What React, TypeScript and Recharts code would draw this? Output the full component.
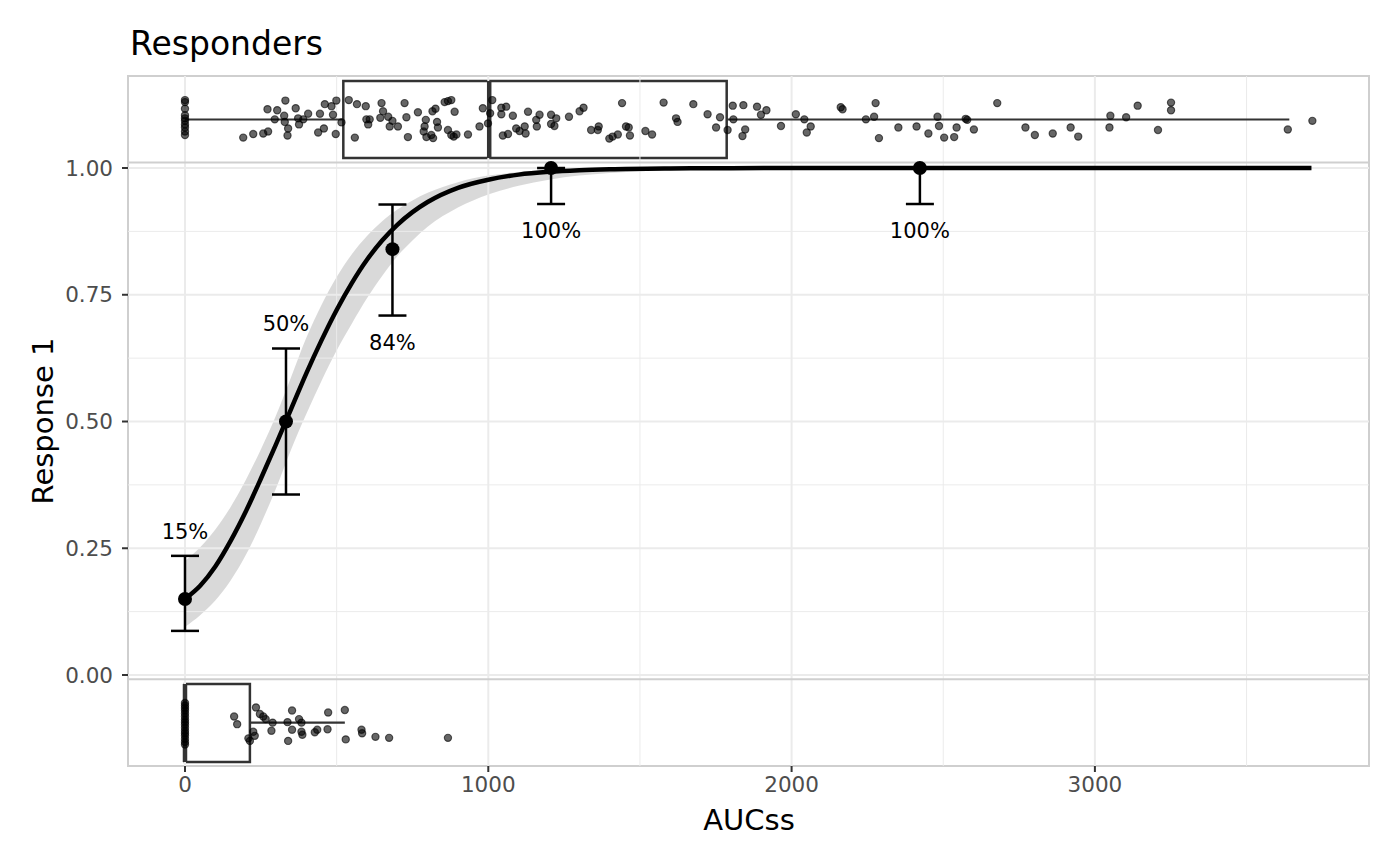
import React from "react";
import {
  ComposedChart,
  XAxis,
  YAxis,
  Line,
  Area,
  Scatter,
  ErrorBar,
  ReferenceLine,
  ReferenceArea,
} from "recharts";

const FONT = "'DejaVu Sans', 'Noto Sans', sans-serif";

// fitted logistic curve + confidence band
const curveX = [0, 50, 100, 150, 200, 250, 300, 350, 400, 450, 500, 550, 600, 650, 700, 750, 800, 900, 1000, 1100, 1200, 1300, 1400, 1600, 1800, 2000, 3714];
const curveP = [0.15, 0.176, 0.214, 0.264, 0.322, 0.387, 0.455, 0.525, 0.595, 0.66, 0.72, 0.773, 0.819, 0.857, 0.888, 0.913, 0.933, 0.961, 0.977, 0.987, 0.9925, 0.9957, 0.9976, 0.9992, 0.9997, 1.0, 1.0];
const bandLo = [0.095, 0.118, 0.147, 0.186, 0.236, 0.298, 0.368, 0.445, 0.515, 0.58, 0.64, 0.693, 0.743, 0.787, 0.826, 0.857, 0.884, 0.922, 0.948, 0.965, 0.977, 0.985, 0.99, 0.996, 0.998, 0.999, 1.0];
const bandHi = [0.225, 0.252, 0.287, 0.331, 0.384, 0.445, 0.512, 0.588, 0.665, 0.73, 0.785, 0.83, 0.866, 0.895, 0.918, 0.936, 0.951, 0.972, 0.985, 0.992, 0.996, 0.998, 0.999, 1.0, 1.0, 1.0, 1.0];

// observed proportion of responders per exposure bin
const binX = [0, 333, 684, 1207, 2423];
const binP = [0.15, 0.5, 0.84, 1.0, 1.0];
const binLo = [0.087, 0.356, 0.709, 0.929, 0.929];
const binHi = [0.235, 0.644, 0.928, 1.0, 1.0];
const binLabels = ["15%", "50%", "84%", "100%", "100%"];
const binLabelY = [0.284, 0.694, 0.657, 0.876, 0.876];

// boxplot stats: lower whisker, q1, median, q3, upper whisker
const respBox = [0, 522, 1003, 1786, 3641];
const nonRespBox = [0, 0, 0, 214, 527];

// jittered individual observations (AUCss, jittered y)
const respPoints = [
  [0, 1.134], [0, 1.13], [0, 1.117], [0, 1.104], [0, 1.098], [0, 1.093], [0, 1.086], [0, 1.08], [0, 1.072], [0, 1.065],
  [192, 1.06], [225, 1.067], [258, 1.068], [274, 1.072], [272, 1.116], [304, 1.114], [331, 1.133], [327, 1.103], [296, 1.096], [329, 1.091],
  [340, 1.078], [338, 1.064], [365, 1.118], [373, 1.098], [376, 1.086], [390, 1.096], [406, 1.107], [439, 1.07], [445, 1.107], [458, 1.078],
  [461, 1.126], [483, 1.122], [488, 1.105], [499, 1.133], [497, 1.067], [516, 1.09], [540, 1.134], [560, 1.06], [567, 1.126], [596, 1.122],
  [598, 1.096], [604, 1.086], [609, 1.096], [648, 1.128], [653, 1.112], [644, 1.099], [670, 1.101], [675, 1.082], [684, 1.093], [702, 1.082],
  [724, 1.128], [730, 1.1], [735, 1.061], [768, 1.11], [794, 1.095], [790, 1.082], [787, 1.072], [796, 1.061], [818, 1.059], [812, 1.065],
  [816, 1.112], [826, 1.117], [831, 1.091], [834, 1.08], [856, 1.13], [867, 1.132], [878, 1.134], [889, 1.111], [867, 1.075], [878, 1.065],
  [886, 1.062], [895, 1.066], [933, 1.066], [971, 1.082], [982, 1.118], [999, 1.088], [1006, 1.108], [1013, 1.134], [1043, 1.119], [1059, 1.121],
  [1043, 1.106], [1048, 1.064], [1065, 1.067], [1081, 1.103], [1092, 1.078], [1103, 1.073], [1120, 1.082], [1123, 1.068], [1131, 1.111], [1158, 1.095],
  [1169, 1.105], [1160, 1.082], [1207, 1.105], [1207, 1.087], [1218, 1.083], [1224, 1.098], [1266, 1.101], [1301, 1.112], [1314, 1.119], [1339, 1.075],
  [1361, 1.075], [1364, 1.082], [1399, 1.058], [1410, 1.062], [1427, 1.066], [1441, 1.128], [1454, 1.082], [1463, 1.08], [1467, 1.064],
  [1518, 1.073], [1540, 1.066], [1578, 1.129], [1619, 1.098], [1624, 1.091], [1676, 1.126], [1723, 1.106], [1751, 1.08], [1764, 1.1], [1789, 1.075],
  [1806, 1.123], [1841, 1.124], [1808, 1.096], [1847, 1.076], [1838, 1.063], [1886, 1.121], [1899, 1.105], [1917, 1.114], [1965, 1.083], [2014, 1.106],
  [2042, 1.096], [2063, 1.082], [2050, 1.07], [2162, 1.12], [2168, 1.116], [2245, 1.096],
  [2272, 1.101], [2277, 1.128], [2288, 1.059], [2352, 1.08], [2412, 1.082], [2451, 1.068], [2481, 1.101], [2486, 1.083], [2503, 1.06], [2536, 1.061],
  [2544, 1.08], [2574, 1.097], [2579, 1.095], [2601, 1.076], [2678, 1.128], [2771, 1.08], [2802, 1.065], [2861, 1.068], [2920, 1.08], [2945, 1.062],
  [3048, 1.08], [3051, 1.103], [3103, 1.1], [3141, 1.123], [3208, 1.075], [3251, 1.129], [3251, 1.114], [3636, 1.076], [3717, 1.093],
];

const nonRespPoints = [
  [0, -0.055], [0, -0.06], [0, -0.065], [0, -0.07], [0, -0.076], [0, -0.082], [0, -0.088], [0, -0.093],
  [0, -0.098], [0, -0.104], [0, -0.11], [0, -0.115], [0, -0.12], [0, -0.126], [0, -0.132], [0, -0.137],
  [162, -0.082], [172, -0.097], [234, -0.064], [247, -0.077], [258, -0.082], [266, -0.087], [289, -0.094], [285, -0.11],
  [209, -0.125], [214, -0.13], [225, -0.112], [230, -0.12], [353, -0.07], [338, -0.093], [353, -0.108], [376, -0.087],
  [384, -0.094], [384, -0.112], [387, -0.118], [340, -0.13], [428, -0.113], [436, -0.108], [472, -0.074], [470, -0.107],
  [527, -0.069], [530, -0.127], [582, -0.108], [584, -0.115], [628, -0.122], [673, -0.124], [867, -0.124],
];

const xTicks = [0, 1000, 2000, 3000];
const xMinor = [500, 1500, 2500, 3500];
const yTicks = [0, 0.25, 0.5, 0.75, 1];
const yMinor = [0.125, 0.375, 0.625, 0.875];

const X_DOMAIN: [number, number] = [-187.9, 3903.7];
const Y_DOMAIN: [number, number] = [-0.1795, 1.1815];

const GRID = "#ebebeb";
const BOX = "#333333";

const Jitter = (p: any) => (
  <circle cx={p.cx} cy={p.cy} r={3.6} fill="#000" fillOpacity={0.6} stroke="#000" strokeOpacity={0.6} strokeWidth={1.2} />
);

const BinDot = (p: any) => <circle cx={p.cx} cy={p.cy} r={7} fill="#000" />;

const BinText = (p: any) => (
  <text x={p.cx} y={p.cy + 7.6} textAnchor="middle" fontSize={21} fontFamily={FONT} fill="#000">
    {p.payload.text}
  </text>
);

export default function App() {
  const curve = curveX.map((x, i) => ({ x, p: curveP[i] }));
  const band = curveX.map((x, i) => ({ x, band: [bandLo[i], bandHi[i]] }));
  const bins = binX.map((x, i) => ({ x, y: binP[i], err: [binP[i] - binLo[i], binHi[i] - binP[i]] }));
  const labels = binX.map((x, i) => ({ x, y: binLabelY[i], text: binLabels[i] }));
  const top = respPoints.map(([x, y]) => ({ x, y }));
  const bottom = nonRespPoints.map(([x, y]) => ({ x, y }));

  // box extents inside the two marginal strips
  const rb = { lo: 1.0197, hi: 1.1716, mid: 1.0957 };
  const nb = { lo: -0.1716, hi: -0.0178, mid: -0.094 };

  const tickStyle = { fontSize: 21.5, fill: "#4d4d4d", fontFamily: FONT };

  return (
    <div style={{ position: "absolute", left: 0, top: 0, width: 1400, height: 865, background: "#fff" }}>
      <ComposedChart width={1400} height={865} margin={{ top: 76, right: 31, bottom: 0, left: 0 }} style={{ fontFamily: FONT }}>
        <XAxis
          type="number"
          dataKey="x"
          domain={X_DOMAIN}
          allowDataOverflow
          ticks={xTicks}
          axisLine={false}
          tickLine={{ stroke: "#333", strokeWidth: 2 }}
          tickSize={6}
          tickMargin={5}
          height={99}
          tick={tickStyle}
        />
        <YAxis
          type="number"
          domain={Y_DOMAIN}
          allowDataOverflow
          ticks={yTicks}
          tickFormatter={(v: number) => v.toFixed(2)}
          axisLine={false}
          tickLine={{ stroke: "#333", strokeWidth: 2 }}
          tickSize={6}
          tickMargin={9}
          width={128}
          tick={tickStyle}
        />

        {xMinor.map((v) => (
          <ReferenceLine key={"xm" + v} x={v} stroke={GRID} strokeWidth={1} />
        ))}
        {yMinor.map((v) => (
          <ReferenceLine key={"ym" + v} y={v} stroke={GRID} strokeWidth={1} />
        ))}
        {xTicks.map((v) => (
          <ReferenceLine key={"xg" + v} x={v} stroke={GRID} strokeWidth={2} />
        ))}
        {yTicks.map((v) => (
          <ReferenceLine key={"yg" + v} y={v} stroke={GRID} strokeWidth={2} />
        ))}
        <ReferenceLine y={1.011} stroke="#cfcfcf" strokeWidth={2} />
        <ReferenceLine y={-0.0085} stroke="#cfcfcf" strokeWidth={2} />

        <Area
          data={band}
          dataKey="band"
          type="monotone"
          fill="#000"
          fillOpacity={0.15}
          stroke="none"
          isAnimationActive={false}
        />
        <Line data={curve} dataKey="p" type="monotone" dot={false} stroke="#000" strokeWidth={4.5} isAnimationActive={false} />

        {/* responders boxplot */}
        <ReferenceArea x1={respBox[1]} x2={respBox[3]} y1={rb.lo} y2={rb.hi} fill="none" stroke={BOX} strokeWidth={2.5} />
        <ReferenceLine segment={[{ x: respBox[2], y: rb.lo }, { x: respBox[2], y: rb.hi }]} stroke={BOX} strokeWidth={4.5} />
        <ReferenceLine segment={[{ x: respBox[0], y: rb.mid }, { x: respBox[1], y: rb.mid }]} stroke={BOX} strokeWidth={2.2} />
        <ReferenceLine segment={[{ x: respBox[3], y: rb.mid }, { x: respBox[4], y: rb.mid }]} stroke={BOX} strokeWidth={2.2} />

        {/* non-responders boxplot */}
        <ReferenceArea x1={nonRespBox[1]} x2={nonRespBox[3]} y1={nb.lo} y2={nb.hi} fill="none" stroke={BOX} strokeWidth={2.5} />
        <ReferenceLine segment={[{ x: nonRespBox[2], y: nb.lo }, { x: nonRespBox[2], y: nb.hi }]} stroke={BOX} strokeWidth={4.5} />
        <ReferenceLine segment={[{ x: nonRespBox[3], y: nb.mid }, { x: nonRespBox[4], y: nb.mid }]} stroke={BOX} strokeWidth={2.2} />

        <Scatter data={top} dataKey="y" shape={Jitter} isAnimationActive={false} />
        <Scatter data={bottom} dataKey="y" shape={Jitter} isAnimationActive={false} />

        <Scatter data={bins} dataKey="y" shape={BinDot} isAnimationActive={false}>
          <ErrorBar dataKey="err" direction="y" width={14} stroke="#000" strokeWidth={2.5} isAnimationActive={false} />
        </Scatter>
        <Scatter data={labels} dataKey="y" shape={BinText} isAnimationActive={false} />

        <ReferenceArea x1={X_DOMAIN[0]} x2={X_DOMAIN[1]} y1={Y_DOMAIN[0]} y2={Y_DOMAIN[1]} fill="none" stroke="#cfcfcf" strokeWidth={2} />
      </ComposedChart>

      <svg width={1400} height={865} style={{ position: "absolute", left: 0, top: 0, pointerEvents: "none" }}>
        <text x={130} y={55} fontSize={33} fontFamily={FONT} fill="#000">
          Responders
        </text>
        <text x={749} y={830} fontSize={29} fontFamily={FONT} fill="#000" textAnchor="middle">
          AUCss
        </text>
        <text x={53} y={421} fontSize={29} fontFamily={FONT} fill="#000" textAnchor="middle" transform="rotate(-90 53 421)">
          Response 1
        </text>
      </svg>
    </div>
  );
}
